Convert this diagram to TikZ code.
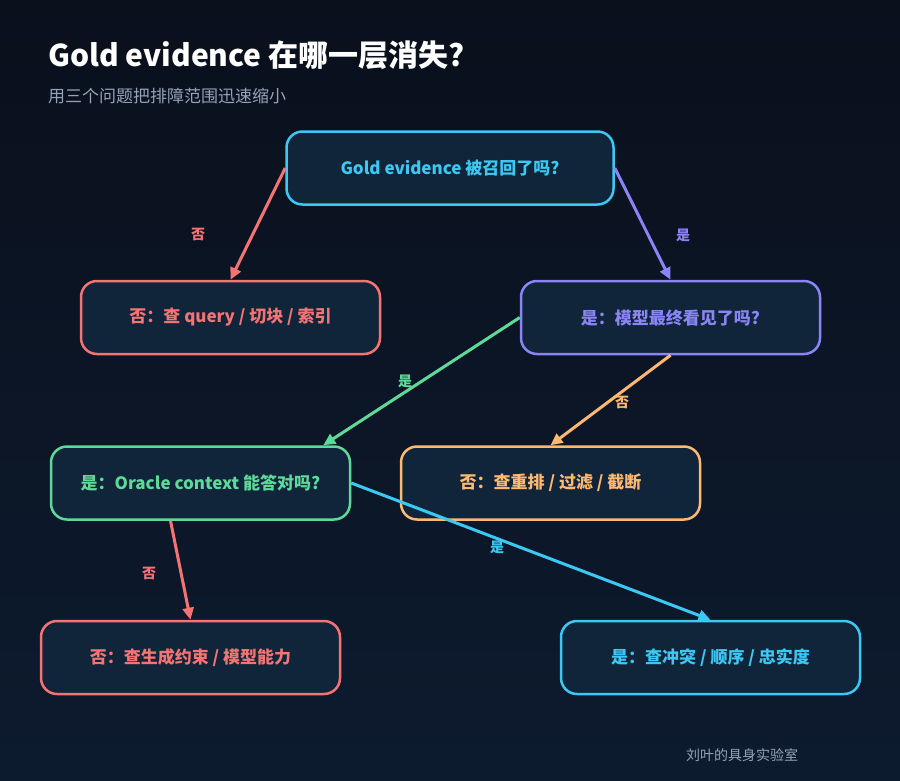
\documentclass[tikz,border=0pt]{standalone}
\usepackage{fontspec}
\setmainfont{Noto Sans CJK SC}
\usetikzlibrary{arrows.meta}
\definecolor{bgtop}{HTML}{0A101C}
\definecolor{bgbot}{HTML}{0D1B2F}
\definecolor{boxfill}{HTML}{10243A}
\definecolor{qcyan}{HTML}{3CC8F2}
\definecolor{qred}{HTML}{F47474}
\definecolor{qpurple}{HTML}{8A84F5}
\definecolor{qgreen}{HTML}{5FD99A}
\definecolor{qorange}{HTML}{FDB871}
\definecolor{qgray}{HTML}{94A3B8}

\tikzset{
	box/.style={draw=#1, text=#1, fill=boxfill, line width=2.5pt, rounded corners=16pt,
		minimum width=299pt, minimum height=73pt, font=\bfseries\fontsize{17}{20}\selectfont},
	link/.style={draw=#1, line width=3pt, -{Triangle[length=12pt,width=11pt]}},
	tag/.style={text=#1, font=\bfseries\fontsize{14}{16}\selectfont}
}

\begin{document}
\begin{tikzpicture}[x=1pt,y=-1pt]
	\shade[top color=bgtop, bottom color=bgbot] (0,0) rectangle (900,780);
	\useasboundingbox (0,0) rectangle (900,780);

	\node[anchor=west, inner sep=0, text=white, font=\bfseries\fontsize{30}{35}\selectfont] (title) at (48,55) {Gold evidence 在哪一层消失?};
	\node[anchor=west, inner sep=0, text=qgray, font=\fontsize{17}{20}\selectfont] (subtitle) at (48,96) {用三个问题把排障范围迅速缩小};

	\node[box=qcyan, minimum width=327pt] (recall) at (450,168) {Gold evidence 被召回了吗?};
	\node[box=qred] (query) at (230.5,317.5) {否：查 query / 切块 / 索引};
	\node[box=qpurple] (seen) at (670.5,317.5) {是：模型最终看见了吗?};
	\node[box=qgreen] (oracle) at (200.5,483) {是：Oracle context 能答对吗?};
	\node[box=qorange] (rerank) at (550.5,483) {否：查重排 / 过滤 / 截断};
	\node[box=qred] (gen) at (190.5,657.5) {否：查生成约束 / 模型能力};
	\node[box=qcyan] (conflict) at (710.5,657.5) {是：查冲突 / 顺序 / 忠实度};

	\draw[link=qred] (recall.west) -- (query.north);
	\draw[link=qpurple] (recall.east) -- (seen.north);
	\draw[link=qgreen] (seen.west) -- ([xshift=-28pt]oracle.north east);
	\draw[link=qorange] (seen.south) -- (rerank.north);
	\draw[link=qred] ([xshift=-30pt]oracle.south) -- (gen.north);
	\draw[link=qcyan] (oracle.east) -- (conflict.north);

	\node[tag=qred] (no1) at (198,234) {否};
	\node[tag=qpurple] (yes1) at (683,235) {是};
	\node[tag=qgreen] (yes2) at (405,381) {是};
	\node[tag=qorange] (no2) at (622,402) {否};
	\node[tag=qred] (no3) at (149,573) {否};
	\node[tag=qcyan] (yes3) at (497,547) {是};

	\node[text=qgray, font=\fontsize{14}{17}\selectfont] (footer) at (742,755) {刘叶的具身实验室};
\end{tikzpicture}
\end{document}
